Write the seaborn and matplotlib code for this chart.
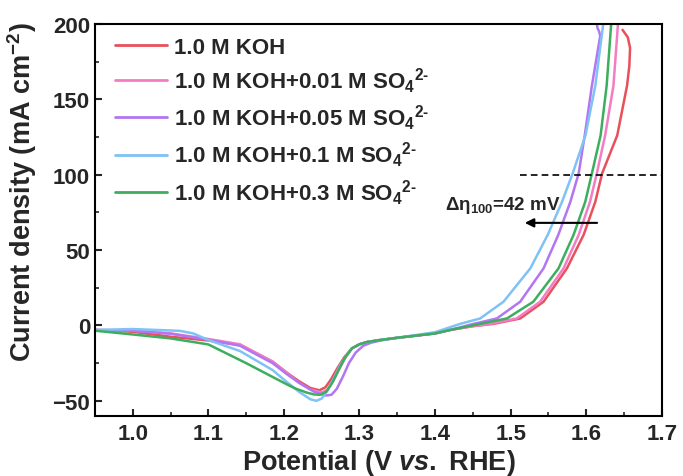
import matplotlib
matplotlib.use("Agg")
import matplotlib.pyplot as plt
import seaborn as sns
import pandas as pd

# Polarization curves: potential (V vs. RHE) and current density (mA cm^-2)
labels = [
    "1.0 M KOH",
    "1.0 M KOH+0.01 M SO$_4$$^{2\\text{-}}$",
    "1.0 M KOH+0.05 M SO$_4$$^{2\\text{-}}$",
    "1.0 M KOH+0.1 M SO$_4$$^{2\\text{-}}$",
    "1.0 M KOH+0.3 M SO$_4$$^{2\\text{-}}$",
]
colors = ["#E8505B", "#F47CC3", "#B276F2", "#7FC2F6", "#3DAE5E"]

v_koh = [0.95, 1.00, 1.05, 1.10, 1.142, 1.185, 1.203, 1.22, 1.235, 1.247, 1.255, 1.262, 1.27,
         1.28, 1.29, 1.30, 1.31, 1.327, 1.35, 1.40, 1.42, 1.45, 1.477, 1.5126, 1.5435,
         1.5744, 1.5965, 1.612, 1.621, 1.641, 1.654, 1.657, 1.658, 1.655, 1.648]
j_koh = [-3, -4.2, -7.5, -10, -13, -24, -31, -37, -41.5, -43, -41, -36, -29,
         -21, -15.2, -12.5, -11, -9.7, -8.2, -5.3, -3, -0.5, 1, 4.6, 15.7,
         37.8, 60, 82, 100.8, 126, 159, 172, 184, 191, 196]

v_s001 = [0.95, 1.00, 1.05, 1.10, 1.142, 1.185, 1.203, 1.22, 1.235, 1.25, 1.258, 1.265, 1.273,
          1.282, 1.29, 1.30, 1.31, 1.327, 1.35, 1.40, 1.42, 1.45, 1.473, 1.508, 1.539,
          1.570, 1.590, 1.605, 1.614, 1.625, 1.636, 1.642]
j_s001 = [-3, -3.5, -5.3, -9, -12.5, -24, -31, -38, -42.5, -44.5, -42.5, -37, -29,
          -21, -15.2, -12.5, -11, -9.7, -8.2, -5.3, -3, -0.5, 1, 4.6, 15.7,
          37.8, 60, 82, 100.8, 126, 159, 200]

v_s005 = [0.95, 1.00, 1.05, 1.10, 1.142, 1.185, 1.203, 1.22, 1.24, 1.255, 1.263, 1.27, 1.278,
          1.286, 1.295, 1.305, 1.315, 1.33, 1.35, 1.40, 1.42, 1.4507, 1.4817, 1.5126, 1.5435,
          1.563, 1.579, 1.590, 1.598, 1.6075, 1.6185, 1.617, 1.615, 1.614]
j_s005 = [-3, -3.5, -5.5, -9.5, -13.5, -25, -32, -38, -44, -46.5, -46, -42, -34,
          -25, -18, -13.5, -11.5, -9.8, -8.2, -5.3, -3, 1, 4.6, 15.7, 37.8,
          60, 82, 100.8, 126, 159, 192, 195, 197, 200]

v_s01 = [0.95, 1.00, 1.062, 1.08, 1.10, 1.142, 1.185, 1.2035, 1.22, 1.235, 1.243, 1.25, 1.258,
         1.266, 1.275, 1.283, 1.29, 1.30, 1.31, 1.327, 1.35, 1.40, 1.433, 1.4596, 1.4905,
         1.526, 1.549, 1.568, 1.582, 1.599, 1.612, 1.6225]
j_s01 = [-3, -2.4, -3.6, -5.3, -9.7, -17, -29.6, -37.4, -44, -49, -50, -48.5, -43,
         -35, -26, -19.5, -15.2, -12.5, -11, -9.7, -8.2, -4.5, 1, 4.6, 15.7,
         37.8, 60, 82, 100.8, 126, 159, 200]

v_s03 = [0.95, 1.00, 1.05, 1.10, 1.15, 1.2035, 1.215, 1.23, 1.24, 1.248, 1.256, 1.264, 1.272,
         1.28, 1.29, 1.30, 1.31, 1.327, 1.35, 1.40, 1.42, 1.4596, 1.495, 1.530, 1.5633,
         1.5832, 1.5987, 1.6075, 1.619, 1.627, 1.633]
j_s03 = [-3.5, -6, -8.6, -12.6, -25, -39, -41.8, -44.5, -45.8, -46, -44, -38, -30,
         -22, -15.2, -12.5, -11, -9.7, -8.2, -5.3, -3, 1, 4.6, 15.7, 37.8,
         60, 82, 100.8, 126, 159, 200]

series_v = [v_koh, v_s001, v_s005, v_s01, v_s03]
series_j = [j_koh, j_s001, j_s005, j_s01, j_s03]

frames = []
for lab, v, j in zip(labels, series_v, series_j):
    frames.append(pd.DataFrame({"potential": v, "current": j, "electrolyte": lab}))
data = pd.concat(frames, ignore_index=True)

sns.set_theme(style="ticks")
plt.rcParams.update({
    "font.family": ["Liberation Sans", "DejaVu Sans"],
    "font.weight": "bold",
    "mathtext.fontset": "custom",
    "mathtext.rm": "Liberation Sans:bold",
    "mathtext.bf": "Liberation Sans:bold",
    "mathtext.it": "Liberation Sans:italic:bold",
    "mathtext.default": "bf",
    "axes.linewidth": 1.5,
})

fig = plt.figure(figsize=(6.83, 4.77), dpi=100)
ax = fig.add_axes([0.139, 0.126, 0.830, 0.822])

for lab, col in zip(labels, colors):
    sub = data[data["electrolyte"] == lab]
    sns.lineplot(data=sub, x="potential", y="current", color=col, lw=1.8,
                 sort=False, estimator=None, ax=ax, label=lab)

# 100 mA cm^-2 reference and overpotential shift
ax.hlines(100, 1.5126, 1.7, colors="black", linestyles=(0, (4, 2.5)), lw=1.2)
ax.annotate("", xy=(1.515, 68), xytext=(1.618, 68),
            arrowprops=dict(arrowstyle="-|>", color="black", lw=1.5, mutation_scale=13))
ax.text(1.413, 80, "Δη$_{100}$=42 mV", fontsize=13.5, fontweight="bold",
        ha="left", va="center")

ax.set_xlim(0.95, 1.7)
ax.set_ylim(-60, 200)
ax.set_xticks([1.0, 1.1, 1.2, 1.3, 1.4, 1.5, 1.6, 1.7])
ax.set_yticks([-50, 0, 50, 100, 150, 200])
ax.set_xticks([0.95 + 0.1 * k for k in range(8)], minor=True)
ax.set_yticks([-25, 25, 75, 125, 175], minor=True)
ax.tick_params(which="major", direction="in", length=5, width=1.5, labelsize=16)
ax.tick_params(axis="x", which="major", pad=5)
ax.tick_params(which="minor", direction="in", length=3, width=1.2)
for lbl in ax.get_xticklabels() + ax.get_yticklabels():
    lbl.set_fontweight("bold")

ax.set_xlabel("Potential (V $\\mathit{vs.}$ RHE)", fontsize=19.5, fontweight="bold", labelpad=2)
ax.set_ylabel("Current density (mA cm$^{-2}$)", fontsize=19.5, fontweight="bold")
ax.yaxis.set_label_coords(-0.099, 0.574)

for s in ax.spines.values():
    s.set_visible(True)
    s.set_linewidth(1.5)
    s.set_color("black")

leg = ax.legend(loc="upper left", bbox_to_anchor=(0.0194, 0.99), borderaxespad=0,
                frameon=False, fontsize=16, handlelength=2.35,
                labelspacing=0.35, handletextpad=0.3)
for line in leg.get_lines():
    line.set_linewidth(2)

fig.savefig("out.png", dpi=100)
